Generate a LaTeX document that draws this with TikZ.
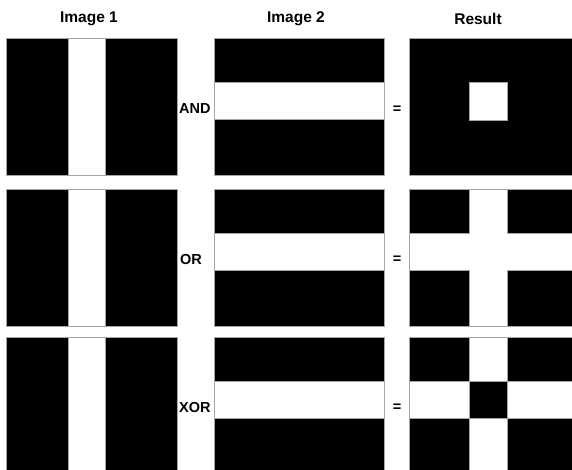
\documentclass[tikz,border=0pt]{standalone}
\usepackage{fontspec}
\setmainfont{Liberation Sans}
\begin{document}
\begin{tikzpicture}[x=1pt,y=-1pt,
  blk/.style={fill=black,draw=gray!70,line width=0.9pt},
  wht/.style={fill=white,draw=gray!70,line width=0.9pt},
  lbl/.style={font=\bfseries\fontsize{14.5}{16}\selectfont,inner sep=0pt},
  ttl/.style={font=\bfseries\fontsize{15.5}{17}\selectfont,inner sep=0pt}]
\useasboundingbox (0,0) rectangle (572,470);
\fill[white] (0,0) rectangle (572,470);
\clip (0,0) rectangle (572,470);
% titles
\node[ttl] (t1) at (89,19) {Image 1};
\node[ttl] (t2) at (296,19) {Image 2};
\node[ttl] (t3) at (478,19) {Result};
% columns 1 and 2
\foreach \t in {38,189,337}{
  \draw[blk] (6,\t) rectangle (177,\t+137);
  \draw[wht] (68,\t) rectangle (105,\t+137);
  \draw[blk] (214,\t) rectangle (384,\t+137);
  \draw[wht] (214,\t+44) rectangle (384,\t+81.5);
  \draw[blk] (409,\t) rectangle (582,\t+137);
}
% result AND
\draw[wht] (469,82) rectangle (507,120);
% result OR
\draw[wht] (469,189)--(507,189)--(507,233.5)--(582,233.5)--(582,270.5)--(507,270.5)--(507,326)--(469,326)--(469,270.5)--(409,270.5)--(409,233.5)--(469,233.5)--cycle;
% result XOR
\draw[wht] (469,337) rectangle (507,474);
\draw[wht] (409,381) rectangle (582,418);
\draw[blk] (469,381) rectangle (507,418);
% operators
\node[lbl,anchor=west] (o1) at (179,109) {AND};
\node[lbl,anchor=west] (o2) at (180,260) {OR};
\node[lbl,anchor=west] (o3) at (179,408) {XOR};
\node[lbl] (e1) at (397,110) {=};
\node[lbl] (e2) at (397,260) {=};
\node[lbl] (e3) at (397,408) {=};
\end{tikzpicture}
\end{document}
